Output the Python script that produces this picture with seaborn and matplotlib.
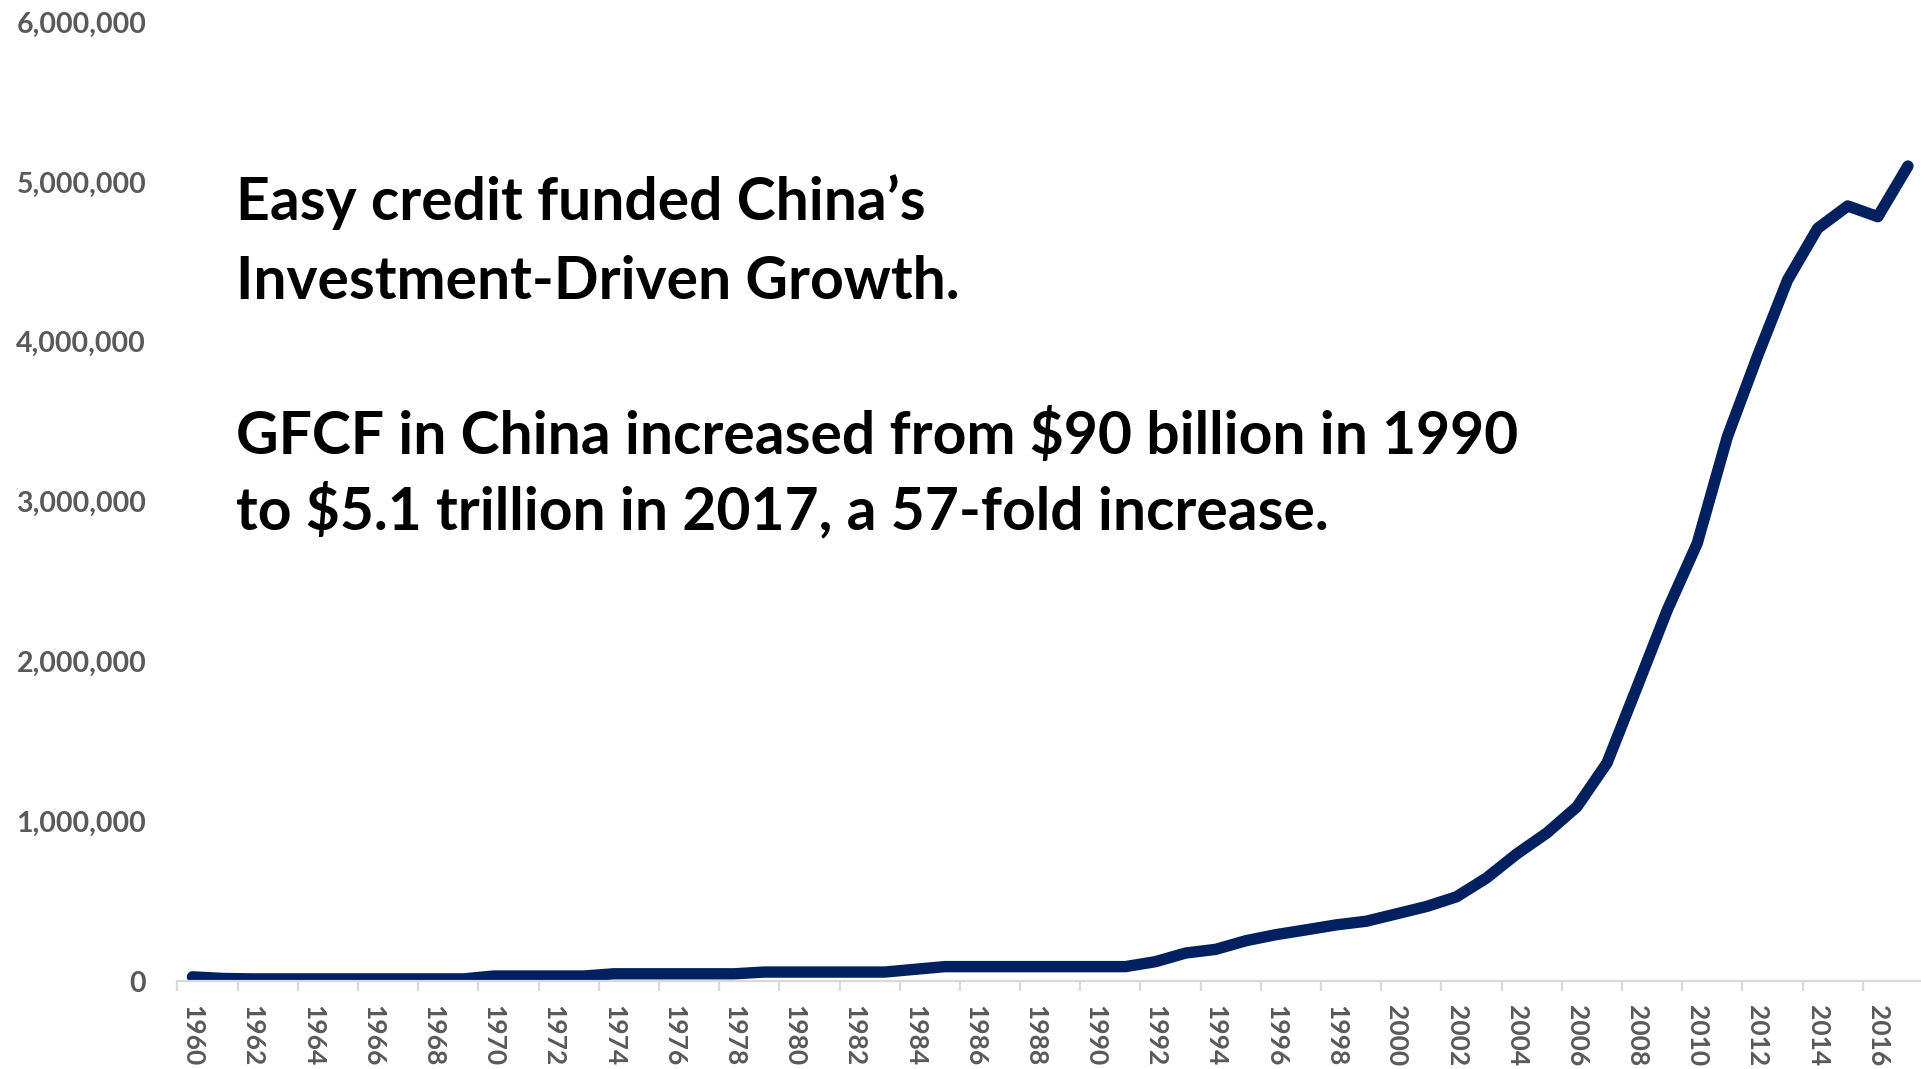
import matplotlib
matplotlib.use("Agg")
import matplotlib.pyplot as plt
from matplotlib.ticker import FixedLocator, FuncFormatter
import numpy as np
import pandas as pd
import seaborn as sns

# Gross fixed capital formation, China (current US$, millions)
years = list(range(1960, 2018))
gfcf = [
    26000, 16000, 13000, 13000, 13000, 13000, 13000, 13000, 13000, 13000,   # 1960-1969
    31000, 31000, 31000, 31000, 45000, 45000, 45000, 45000, 45000, 56000,   # 1970-1979
    56000, 56000, 56000, 56000, 73000, 90000, 90000, 90000, 90000, 90000,   # 1980-1989
    90000, 90000, 121000, 175000, 198000, 252000, 290000, 320000, 351000, 374000,  # 1990-1999
    420000, 466000, 527000, 645000, 795000, 926000, 1090000, 1364000, 1840000, 2320000,  # 2000-2009
    2740000, 3406000, 3910000, 4387000, 4710000, 4850000, 4783000, 5100000,  # 2010-2017
]
y_ticks = [0, 1000000, 2000000, 3000000, 4000000, 5000000, 6000000]
x_label_years = list(range(1960, 2017, 2))

headline = ["Easy credit funded China\u2019s", "Investment-Driven Growth."]
detail = ["GFCF in China increased from $90 billion in 1990",
          "to $5.1 trillion in 2017, a 57-fold increase."]

df = pd.DataFrame({"year": years, "gfcf": gfcf})

sns.set_theme(style="white")
plt.rcParams["font.family"] = ["Lato", "DejaVu Sans"]

W, H = 1921, 1069
fig = plt.figure(figsize=(W / 100, H / 100), dpi=100)
fig.patch.set_facecolor("white")

# plot area in pixel terms: left boundary of first category, y=0 baseline, 6M top
x0, x1 = 177.4, 1923.0
y_zero, y_top = 981.0, 22.2
ax = fig.add_axes([x0 / W, 1 - y_zero / H, (x1 - x0) / W, (y_zero - y_top) / H])
ax.set_facecolor("white")

sns.lineplot(data=df, x="year", y="gfcf", ax=ax, color="#002060",
             linewidth=8.2, solid_capstyle="round", solid_joinstyle="round",
             legend=False)

ax.set_xlim(1959.5, 2017.5)
ax.set_ylim(0, 6000000)
ax.set_xlabel("")
ax.set_ylabel("")

for side in ("top", "right", "left"):
    ax.spines[side].set_visible(False)
ax.spines["bottom"].set_color("#d9d9d9")
ax.spines["bottom"].set_linewidth(1.6)
ax.grid(False)

label_color = "#595959"
ax.yaxis.set_major_locator(FixedLocator(y_ticks))
ax.yaxis.set_major_formatter(FuncFormatter(lambda v, p: f"{int(v):,}"))
ax.tick_params(axis="y", length=0, pad=22.5, labelsize=20.5, labelcolor=label_color)
for t in ax.get_yticklabels():
    t.set_fontweight("bold")

ax.xaxis.set_major_locator(FixedLocator(x_label_years))
ax.xaxis.set_major_formatter(FuncFormatter(lambda v, p: f"{int(round(v))}"))
ax.xaxis.set_minor_locator(FixedLocator(np.arange(1959.5, 2018, 2)))
ax.tick_params(axis="x", which="major", length=0, pad=17, labelsize=19,
               labelcolor=label_color, labelrotation=-90)
ax.tick_params(axis="x", which="minor", length=7.2, width=1.6, color="#d9d9d9",
               direction="out", bottom=True)
for t in ax.get_xticklabels():
    t.set_fontweight("bold")
    t.set_va("top")
    t.set_ha("center")

text_x = 236 / W
text_size = 42.3
for line, base in zip(headline, [220.5, 299.0]):
    fig.text(text_x, 1 - base / H, line, fontsize=text_size, fontweight="bold",
             color="black", ha="left", va="baseline")
for line, base in zip(detail, [454.0, 529.5]):
    fig.text(text_x, 1 - base / H, line, fontsize=text_size, fontweight="bold",
             color="black", ha="left", va="baseline")

fig.savefig("out.png", dpi=100, facecolor="white")
